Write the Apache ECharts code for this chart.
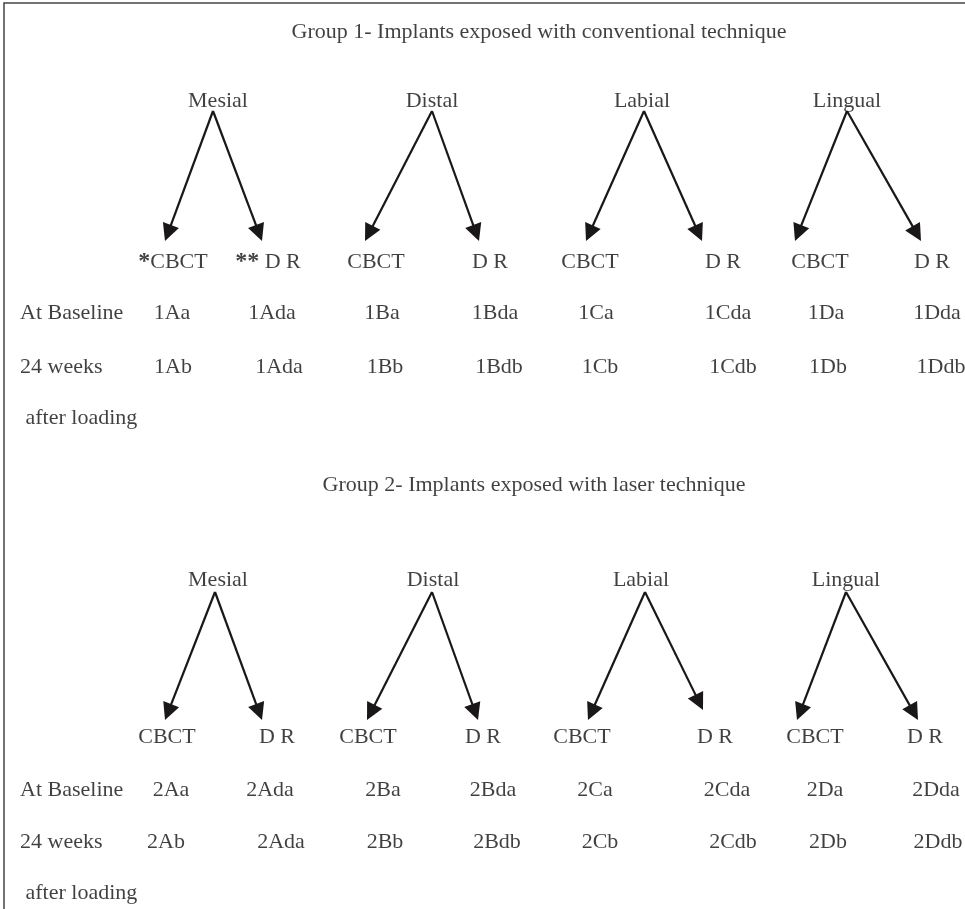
<!DOCTYPE html>
<html>
<head>
<meta charset="utf-8">
<script src="https://cdn.jsdelivr.net/npm/echarts@6/dist/echarts.min.js"></script>
<style>
html,body{margin:0;padding:0;background:#fff;}
#chart{width:965px;height:909px;}
</style>
</head>
<body>
<div id="chart"></div>
<script>
// ---- content (text only) ----
const groupTitles = ['Group 1- Implants exposed with conventional technique', 'Group 2- Implants exposed with laser technique'];
const sites = ['Mesial', 'Distal', 'Labial', 'Lingual'];
const methodsG1 = ['*CBCT', '** D R', 'CBCT', 'D R', 'CBCT', 'D R', 'CBCT', 'D R'];
const methodsG2 = ['CBCT', 'D R', 'CBCT', 'D R', 'CBCT', 'D R', 'CBCT', 'D R'];
const rowLabels = ['At Baseline', '24 weeks', ' after loading'];
const g1Baseline = ['1Aa', '1Ada', '1Ba', '1Bda', '1Ca', '1Cda', '1Da', '1Dda'];
const g1Week24 = ['1Ab', '1Ada', '1Bb', '1Bdb', '1Cb', '1Cdb', '1Db', '1Ddb'];
const g2Baseline = ['2Aa', '2Ada', '2Ba', '2Bda', '2Ca', '2Cda', '2Da', '2Dda'];
const g2Week24 = ['2Ab', '2Ada', '2Bb', '2Bdb', '2Cb', '2Cdb', '2Db', '2Ddb'];

// ---- layout (positions on a pixel-unit value axis) ----
const layout = [
  {
    titleX: 539, titleY: 32, headerY: 101, apexY: 111, tipY: [241, 241, 241, 241], tipYR: [241, 241, 241, 241],
    methodY: 262, rowY: [313, 367, 418], rowX: [20, 20, 20],
    headerX: [218, 432, 642, 847], apexX: [213, 432, 644, 847],
    tipL: [165, 365, 586, 795], tipR: [262, 479, 702, 921],
    methodX: [173, 268, 376, 490, 590, 723, 820, 932],
    row1X: [172, 272, 382, 495, 596, 728, 826, 937],
    row2X: [173, 279, 385, 499, 600, 733, 828, 941]
  },
  {
    titleX: 534, titleY: 485, headerY: 580, apexY: 592, tipY: [720, 720, 720, 720], tipYR: [720, 720, 710, 720],
    methodY: 737, rowY: [790, 842, 893], rowX: [20, 20, 20],
    headerX: [218, 433, 641, 846], apexX: [215, 432, 645, 846],
    tipL: [165, 367, 588, 797], tipR: [262, 478, 703, 918],
    methodX: [167, 277, 368, 483, 582, 715, 815, 925],
    row1X: [171, 270, 383, 493, 595, 727, 825, 936],
    row2X: [166, 281, 385, 497, 600, 733, 828, 938]
  }
];

const INK = '#111011';
const FONT = '"Liberation Serif", "Times New Roman", serif';
const FS = 22;
const HEAD = 17; // arrow head length

const groups = [
  {title: groupTitles[0], methods: methodsG1, rows: [g1Baseline, g1Week24]},
  {title: groupTitles[1], methods: methodsG2, rows: [g2Baseline, g2Week24]}
];

const centerTexts = [];
const leftTexts = [];
const arrows = [];

groups.forEach((g, gi) => {
  const L = layout[gi];
  centerTexts.push({value: [L.titleX, L.titleY], name: g.title});
  sites.forEach((s, si) => {
    centerTexts.push({value: [L.headerX[si], L.headerY], name: s});
    const apex = [L.apexX[si], L.apexY];
    [[L.tipL[si], L.tipY[si]], [L.tipR[si], L.tipYR[si]]].forEach(tip => {
      const dx = tip[0] - apex[0], dy = tip[1] - apex[1];
      const len = Math.sqrt(dx * dx + dy * dy);
      const end = [tip[0] - dx / len * HEAD / 2, tip[1] - dy / len * HEAD / 2];
      arrows.push({coords: [apex, end]});
    });
  });
  g.methods.forEach((m, mi) => {
    centerTexts.push({value: [L.methodX[mi], L.methodY], name: m});
  });
  g.rows.forEach((row, ri) => {
    const xs = ri === 0 ? L.row1X : L.row2X;
    row.forEach((c, ci) => centerTexts.push({value: [xs[ci], L.rowY[ri]], name: c}));
  });
  rowLabels.forEach((r, ri) => {
    leftTexts.push({value: [L.rowX[ri], L.rowY[ri]], name: r});
  });
});

const chart = echarts.init(document.getElementById('chart'), null, {renderer: 'canvas'});

const fmt = p => p.name.replace(/^(\*+)/, '{a|$1}');

const textBase = {
  show: true, position: 'inside', color: INK,
  fontFamily: FONT, fontSize: FS,
  textBorderWidth: 0
};

chart.setOption({
  animation: false,
  backgroundColor: '#ffffff',
  grid: {left: 0, right: 0, top: 0, bottom: 0},
  xAxis: {type: 'value', min: 0, max: 965, show: false},
  yAxis: {type: 'value', min: 0, max: 909, inverse: true, show: false},
  series: [
    {
      type: 'lines',
      coordinateSystem: 'cartesian2d',
      polyline: true,
      silent: true,
      symbol: 'none',
      lineStyle: {color: '#444', width: 1.5, opacity: 1},
      data: [{coords: [[4, 909], [4, 3], [965, 3]]}]
    },
    {
      type: 'lines',
      coordinateSystem: 'cartesian2d',
      silent: true,
      symbol: ['none', 'triangle'],
      symbolSize: [13, HEAD],
      lineStyle: {color: '#1a1718', width: 2.2, opacity: 1},
      data: arrows
    },
    {
      type: 'scatter',
      silent: true,
      symbolSize: 1,
      itemStyle: {color: 'rgba(0,0,0,0)'},
      label: Object.assign({}, textBase, {
        formatter: fmt,
        rich: {a: {fontFamily: FONT, fontSize: FS + 2, fontWeight: 'bold', color: INK, textBorderWidth: 0}}
      }),
      emphasis: {disabled: true},
      data: centerTexts
    },
    {
      type: 'scatter',
      silent: true,
      symbolSize: 1,
      itemStyle: {color: 'rgba(0,0,0,0)'},
      label: Object.assign({}, textBase, {align: 'left', formatter: '{b}'}),
      emphasis: {disabled: true},
      data: leftTexts
    }
  ]
});
</script>
</body>
</html>
